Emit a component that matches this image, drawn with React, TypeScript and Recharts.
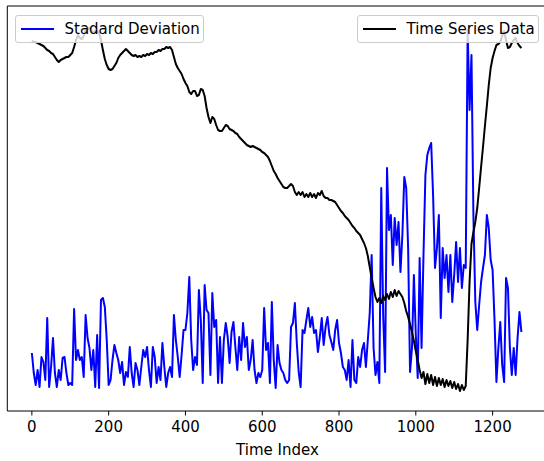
import React from 'react';
import { LineChart, Line, XAxis, YAxis, ReferenceArea } from 'recharts';

// rolling standard deviation, read every 5 steps
const stdDev = [
  4.7, 2.7, 1.5, 3.0, 1.3, 4.3, 3.8, 2.0, 8.2, 1.3, 3.3, 6.2, 2.7, 1.3, 3.0, 2.0,
  4.2, 4.3, 2.7, 1.5, 1.7, 1.5, 9.1, 4.0, 5.0, 4.0, 4.3, 2.3, 8.5, 6.2, 5.2, 3.0,
  5.0, 1.3, 6.5, 1.2, 10.0, 10.2, 9.3, 6.0, 1.5, 2.0, 4.0, 5.5, 4.7, 4.0, 2.7, 3.8,
  1.5, 2.8, 2.3, 5.3, 2.7, 1.3, 3.7, 3.0, 1.5, 3.3, 5.0, 4.3, 5.3, 3.0, 1.3, 5.3,
  4.3, 1.7, 3.3, 2.0, 5.7, 3.3, 1.3, 2.7, 3.3, 2.3, 8.5, 6.0, 4.3, 2.3, 4.5, 7.0,
  7.0, 8.7, 12.3, 6.0, 3.0, 4.3, 3.5, 11.0, 8.0, 1.7, 11.5, 9.0, 8.7, 2.5, 10.7, 7.3,
  8.0, 1.7, 6.3, 1.7, 6.0, 7.7, 6.3, 3.7, 6.8, 7.8, 5.3, 3.0, 6.3, 4.0, 7.7, 5.3,
  6.3, 3.0, 4.0, 6.0, 3.0, 1.7, 2.7, 2.3, 3.0, 9.2, 5.0, 5.7, 1.7, 9.8, 4.0, 1.2,
  5.5, 3.7, 3.0, 2.7, 2.0, 1.7, 2.0, 7.3, 7.7, 9.7, 5.7, 2.8, 1.3, 7.0, 6.7, 8.0,
  9.2, 7.3, 8.3, 6.7, 7.0, 4.8, 6.3, 8.2, 5.5, 7.3, 8.3, 6.5, 5.8, 5.0, 7.0, 8.0,
  5.7, 4.7, 3.3, 3.0, 2.0, 4.0, 1.3, 6.0, 2.0, 1.7, 4.3, 3.3, 5.0, 5.7, 3.3, 6.0,
  8.7, 14.5, 5.2, 2.5, 3.8, 1.7, 21.2, 8.5, 2.8, 23.2, 17.0, 18.5, 13.5, 18.2, 15.5, 17.8,
  12.8, 16.5, 22.3, 21.2, 15.2, 2.8, 5.2, 12.5, 6.5, 2.2, 14.2, 5.2, 14.5, 22.5, 24.5, 25.2,
  25.7, 20.5, 13.2, 15.2, 18.5, 8.2, 15.2, 12.2, 14.5, 10.8, 14.5, 9.8, 12.5, 15.8, 11.8, 15.2,
  11.2, 13.5, 13.2, 37.0, 29.0, 34.5, 18.5, 9.8, 7.0, 9.5, 11.8, 13.2, 14.5, 18.5, 17.2, 14.0,
  13.0, 8.0, 1.8, 5.2, 7.8, 3.5, 1.8, 12.2, 11.2, 5.2, 2.5, 5.2, 2.5, 6.2, 8.8, 6.8,
];

const seriesData = [
  35.9, 35.8, 35.8, 35.7, 35.6, 35.5, 35.4, 35.2, 35.0, 34.9, 34.7, 34.6, 34.3, 34.0, 33.8, 34.0,
  34.1, 34.2, 34.3, 34.3, 34.5, 34.7, 35.3, 36.0, 36.5, 36.2, 36.1, 36.4, 37.0, 37.1, 37.2, 37.0,
  36.7, 36.9, 36.9, 36.7, 36.0, 35.0, 34.1, 33.5, 33.1, 33.0, 33.1, 33.4, 33.7, 34.2, 34.5, 34.7,
  34.9, 35.1, 34.9, 34.7, 34.5, 34.4, 34.5, 34.3, 34.4, 34.3, 34.5, 34.4, 34.6, 34.5, 34.7, 34.6,
  34.8, 34.8, 35.0, 34.9, 35.1, 35.1, 35.3, 35.2, 35.3, 35.0, 34.3, 33.6, 33.2, 32.9, 32.6, 32.1,
  31.7, 31.4, 30.8, 30.6, 30.9, 30.9, 30.4, 30.5, 31.1, 31.0, 30.4, 29.2, 28.3, 27.7, 28.3, 28.1,
  27.5, 27.0, 26.9, 26.9, 27.2, 27.5, 27.4, 27.1, 27.0, 26.9, 26.7, 26.6, 26.3, 26.1, 25.9, 25.7,
  25.5, 25.4, 25.3, 25.4, 25.3, 25.2, 25.1, 25.0, 24.8, 24.7, 24.5, 24.3, 23.9, 23.4, 22.9, 22.6,
  22.2, 21.9, 21.6, 21.3, 21.2, 21.2, 21.4, 21.6, 21.4, 20.8, 20.5, 20.8, 20.5, 20.8, 20.3, 20.6,
  20.3, 20.7, 20.3, 20.6, 20.2, 20.7, 20.5, 20.9, 20.4, 20.2, 20.2, 20.0, 20.0, 19.9, 19.8, 19.5,
  19.2, 18.9, 18.7, 18.4, 18.2, 18.0, 17.7, 17.4, 17.2, 16.9, 16.7, 16.5, 16.1, 15.7, 15.2, 14.4,
  13.3, 12.2, 11.2, 10.3, 9.8, 10.2, 9.7, 10.4, 10.0, 10.6, 10.1, 10.8, 10.3, 11.0, 10.4, 10.9,
  10.6, 10.3, 9.7, 8.9, 8.3, 7.6, 6.8, 5.9, 4.9, 4.0, 3.0, 2.2, 2.8, 1.6, 2.6, 1.7,
  2.5, 1.5, 2.3, 1.4, 2.2, 1.5, 2.1, 1.3, 2.0, 1.4, 1.9, 1.2, 1.8, 1.1, 1.6, 0.9,
  1.5, 1.0, 1.4, 6.0, 11.8, 15.6, 16.8, 17.8, 19.2, 21.2, 23.3, 25.3, 27.4, 29.4, 31.5, 33.2,
  34.2, 34.9, 35.5, 35.6, 35.8, 36.4, 36.9, 36.0, 35.2, 35.3, 35.7, 36.0, 36.2, 35.7, 35.4, 35.2,
];

const timeIndex = stdDev.map((_, i) => i * 5);
const xTicks = [0, 200, 400, 600, 800, 1000, 1200];

const X_DOMAIN: [number, number] = [-64, 1343];
const Y_DOMAIN: [number, number] = [-1.1, 39.4];

const data = timeIndex.map((t, i) => ({ t, std: stdDev[i], ts: seriesData[i] }));

const font = '"DejaVu Sans", sans-serif';

const LegendBox = ({ left, width, color, label }: { left: number; width: number; color: string; label: string }) => (
  <div
    style={{
      position: 'absolute',
      left,
      top: 14.5,
      width,
      height: 28,
      boxSizing: 'border-box',
      border: '1px solid #cccccc',
      borderRadius: 3,
      background: 'rgba(255,255,255,0.8)',
      fontFamily: font,
      fontSize: 15,
      color: '#000',
    }}
  >
    <div style={{ position: 'absolute', left: 5, top: 12.5, width: 33, height: 2, background: color }} />
    <div style={{ position: 'absolute', left: 48.5, top: 4, lineHeight: '18px', whiteSpace: 'nowrap' }}>{label}</div>
  </div>
);

export default function App() {
  return (
    <div style={{ position: 'absolute', left: 0, top: 0, width: 544, height: 461, overflow: 'hidden', background: '#fff' }}>
      <LineChart width={560} height={461} data={data} margin={{ top: 6, right: 12.5, bottom: 0, left: 7.3 }}>
        <XAxis
          dataKey="t"
          type="number"
          domain={X_DOMAIN}
          allowDataOverflow
          ticks={xTicks}
          interval={0}
          height={50}
          axisLine={false}
          tickSize={4.5}
          tickMargin={6}
          tickLine={{ stroke: '#000', strokeWidth: 1 }}
          tick={{ fill: '#000', fontSize: 15, fontFamily: font }}
        />
        <YAxis yAxisId="left" hide type="number" domain={Y_DOMAIN} allowDataOverflow />
        <YAxis yAxisId="right" hide orientation="right" type="number" domain={Y_DOMAIN} allowDataOverflow />
        <Line
          yAxisId="left"
          type="linear"
          dataKey="std"
          stroke="#0000ff"
          strokeWidth={2}
          strokeLinejoin="round"
          dot={false}
          activeDot={false}
          isAnimationActive={false}
        />
        <Line
          yAxisId="right"
          type="linear"
          dataKey="ts"
          stroke="#000000"
          strokeWidth={2}
          strokeLinejoin="round"
          dot={false}
          activeDot={false}
          isAnimationActive={false}
        />
        <ReferenceArea
          yAxisId="left"
          x1={X_DOMAIN[0]}
          x2={X_DOMAIN[1]}
          y1={Y_DOMAIN[0]}
          y2={Y_DOMAIN[1]}
          fill="none"
          stroke="#000"
          strokeWidth={1}
          ifOverflow="visible"
        />
      </LineChart>
      <LegendBox left={15} width={189} color="#0000ff" label="Stadard Deviation" />
      <LegendBox left={357} width={182} color="#000000" label="Time Series Data" />
      <div
        style={{
          position: 'absolute',
          left: 7.3,
          width: 540.3,
          top: 440,
          textAlign: 'center',
          fontFamily: font,
          fontSize: 15,
          lineHeight: '20px',
          color: '#000',
        }}
      >
        Time Index
      </div>
    </div>
  );
}
